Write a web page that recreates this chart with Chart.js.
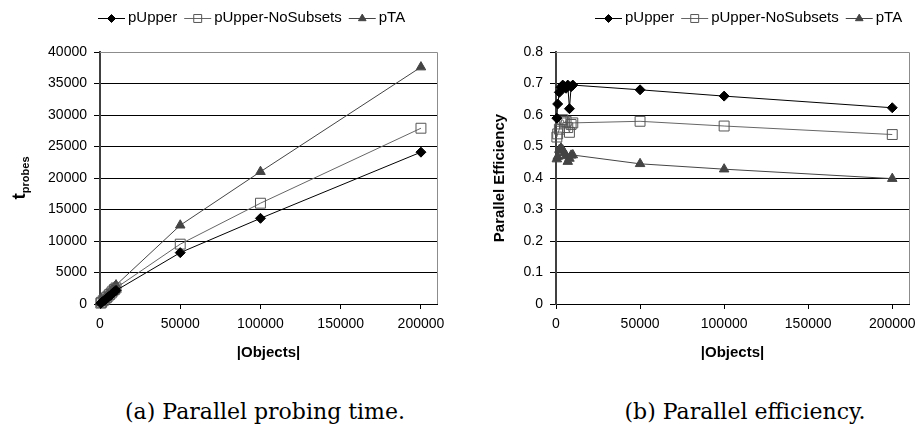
<!DOCTYPE html>
<html><head><meta charset="utf-8">
<script src="https://cdn.jsdelivr.net/npm/chart.js@4.4.1/dist/chart.umd.min.js"></script>
<style>
html,body{margin:0;padding:0;background:#fff;width:923px;height:428px;overflow:hidden;position:relative}
canvas{position:absolute;top:0}
#c1{left:0}
#c2{left:460px}
.cap{position:absolute;font-family:'DejaVu Serif';font-size:22px;line-height:1;color:#000;white-space:nowrap;transform:translateX(-50%);}
</style></head><body>
<canvas id="c1" width="460" height="380"></canvas>
<canvas id="c2" width="463" height="380"></canvas>
<div class="cap" style="left:265px;top:401px">(a) Parallel probing time.</div>
<div class="cap" style="left:745px;top:401px">(b) Parallel efficiency.</div>
<script>
const objects = [500, 1000, 2000, 3000, 4000, 5000, 6000, 7000, 8000, 9000, 10000, 50000, 100000, 200000];
const seriesNames = ['pUpper', 'pUpper-NoSubsets', 'pTA'];
const timeUpper = [120, 230, 440, 640, 850, 1060, 1270, 1480, 1750, 1950, 2150, 8150, 13600, 24100];
const timeNoSubsets = [140, 270, 520, 760, 1000, 1250, 1500, 1750, 2050, 2300, 2550, 9500, 16000, 27900];
const timeTA = [160, 310, 600, 880, 1180, 1480, 1800, 2120, 2400, 2700, 3000, 12500, 21000, 37600];
const effUpper = [0.59, 0.635, 0.672, 0.688, 0.695, 0.69, 0.685, 0.695, 0.62, 0.69, 0.695, 0.68, 0.66, 0.623];
const effNoSubsets = [0.53, 0.54, 0.555, 0.58, 0.585, 0.575, 0.58, 0.56, 0.545, 0.57, 0.575, 0.58, 0.565, 0.538];
const effTA = [0.46, 0.468, 0.49, 0.495, 0.488, 0.48, 0.47, 0.452, 0.462, 0.472, 0.473, 0.445, 0.428, 0.398];
const xTicks = [0, 50000, 100000, 150000, 200000];
const timeTicks = [0, 5000, 10000, 15000, 20000, 25000, 30000, 35000, 40000];
const effTicks = [0, 0.1, 0.2, 0.3, 0.4, 0.5, 0.6, 0.7, 0.8];

const styles = [
  {line:'#000000', pointStyle:'rectRot', radius:5, fill:'#000000', stroke:'#000000'},
  {line:'#666666', pointStyle:'rect', radius:7, fill:'rgba(255,255,255,0)', stroke:'#555555'},
  {line:'#444444', pointStyle:'triangle', radius:5.5, fill:'#444444', stroke:'#444444'}
];

function drawMarker(ctx, style, x, y, r, fill, stroke){
  ctx.beginPath();
  if(style==='rectRot'){ ctx.moveTo(x, y-r); ctx.lineTo(x+r,y); ctx.lineTo(x,y+r); ctx.lineTo(x-r,y); ctx.closePath(); }
  else if(style==='rect'){ const s=r*Math.SQRT1_2; ctx.rect(x-s,y-s,2*s,2*s); }
  else { ctx.moveTo(x, y-r); ctx.lineTo(x+r*0.866, y+r*0.5); ctx.lineTo(x-r*0.866,y+r*0.5); ctx.closePath(); }
  ctx.fillStyle=fill; ctx.fill(); ctx.strokeStyle=stroke; ctx.lineWidth=1; ctx.stroke();
}

const decor = {
  id:'decor',
  beforeDatasetsDraw(chart){
    const ctx = chart.ctx, a = chart.chartArea;
    ctx.save(); ctx.strokeStyle='#8c8c8c'; ctx.lineWidth=1;
    ctx.beginPath(); ctx.moveTo(a.left, Math.round(a.top)+0.5); ctx.lineTo(Math.round(a.right)+0.5, Math.round(a.top)+0.5); ctx.lineTo(Math.round(a.right)+0.5, a.bottom); ctx.stroke();
    ctx.restore();
  },
  afterDraw(chart, args, o){
    const ctx = chart.ctx, a = chart.chartArea;
    ctx.save();
    ctx.font = '15px "Liberation Sans"'; ctx.textBaseline='middle'; ctx.textAlign='left';
    let x = o.legendX; const y = o.legendY;
    chart.data.datasets.forEach((ds,i)=>{
      ctx.strokeStyle = ds.borderColor; ctx.lineWidth = 1;
      ctx.beginPath(); ctx.moveTo(x, y+0.5); ctx.lineTo(x+27, y+0.5); ctx.stroke();
      drawMarker(ctx, ds.pointStyle, x+13.5, y+0.5, ds.pointRadius*0.8, ds.pointBackgroundColor, ds.pointBorderColor);
      ctx.fillStyle='#000';
      ctx.fillText(ds.label, x+30, y);
      x += 30 + ctx.measureText(ds.label).width + 7;
    });
    ctx.fillStyle='#000';
    ctx.font = 'bold 15px "Liberation Sans"'; ctx.textAlign='center';
    ctx.fillText('|Objects|', (a.left+a.right)/2, o.xTitleY);
    ctx.translate(o.yTitleX, (a.top+a.bottom)/2);
    ctx.rotate(-Math.PI/2);
    if(o.sub){
      ctx.textBaseline='alphabetic'; ctx.textAlign='left';
      ctx.font = 'bold 19px "Liberation Sans"';
      const w1 = ctx.measureText(o.yTitle).width;
      ctx.font = 'bold 11px "Liberation Sans"';
      const w2 = ctx.measureText(o.sub).width;
      const sx = -(w1+w2)/2;
      ctx.font = 'bold 19px "Liberation Sans"';
      ctx.fillText(o.yTitle, sx, 0);
      ctx.font = 'bold 11px "Liberation Sans"';
      ctx.fillText(o.sub, sx+w1, 4);
    } else {
      ctx.textBaseline='middle';
      ctx.font = 'bold 15px "Liberation Sans"';
      ctx.fillText(o.yTitle, 0, 0);
    }
    ctx.restore();
  }
};

function makeChart(id, yVals, yTicks, yMax, fmt, o){
  return new Chart(document.getElementById(id), {
    type:'scatter',
    data:{ datasets: seriesNames.map((n,i)=>({
      label:n, data: objects.map((xv,j)=>({x:xv, y:yVals[i][j]})),
      showLine:true, borderColor: styles[i].line, borderWidth:1,
      pointStyle: styles[i].pointStyle, pointRadius: styles[i].radius, pointHoverRadius: styles[i].radius,
      pointBackgroundColor: styles[i].fill, pointBorderColor: styles[i].stroke, pointBorderWidth:1,
      clip:false, tension:0 }))},
    options:{
      responsive:false, animation:false, events:[],
      layout:{padding:{left:0, right:o.padRight, top:52, bottom:0}},
      plugins:{legend:{display:false}, tooltip:{enabled:false}, decor:o.decor},
      scales:{
        x:{type:'linear', min:0, max:210000,
          afterBuildTicks: s=>{ s.ticks = xTicks.map(v=>({value:v})); },
          afterFit: s=>{ s.height = 76; },
          ticks:{font:{family:'Liberation Sans', size:14}, color:'#000', padding:7, maxRotation:0, autoSkip:false, callback:v=>String(v)},
          grid:{drawOnChartArea:false, tickLength:5, tickColor:'#000', color:'#000'},
          border:{color:'#000', width:1}},
        y:{type:'linear', min:0, max:yMax,
          afterBuildTicks: s=>{ s.ticks = yTicks.map(v=>({value:v})); },
          afterFit: s=>{ s.width = o.yWidth; },
          ticks:{font:{family:'Liberation Sans', size:14}, color:'#000', padding:7, autoSkip:false, callback:fmt},
          grid:{color: c=> (c.tick && c.tick.value >= yMax-1e-9) ? 'rgba(0,0,0,0)' : '#000', tickColor:'#000', tickLength:6, lineWidth:1},
          border:{color:'#404040', width:2}}
      }
    },
    plugins:[decor]
  });
}

makeChart('c1', [timeUpper, timeNoSubsets, timeTA], timeTicks, 40000, v=>String(v),
  {padRight:23, yWidth:100, decor:{legendX:98, legendY:18, xTitleY:353, yTitleX:25, yTitle:'t', sub:'probes'}});
makeChart('c2', [effUpper, effNoSubsets, effTA], effTicks, 0.8, v=>String(+Number(v).toFixed(1)),
  {padRight:7, yWidth:96, decor:{legendX:135, legendY:18, xTitleY:353, yTitleX:40, yTitle:'Parallel Efficiency'}});
</script>
</body></html>
